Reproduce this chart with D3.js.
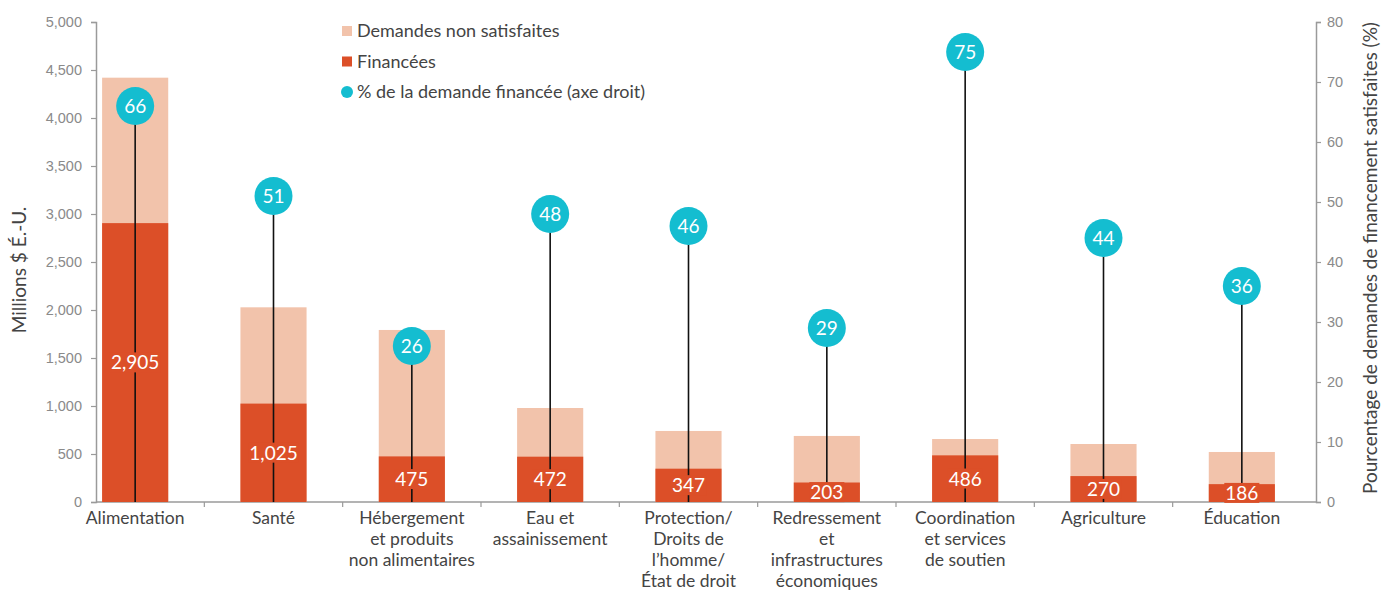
<!DOCTYPE html>
<html>
<head>
<meta charset="utf-8">
<script src="https://cdn.jsdelivr.net/npm/d3@7"></script>
<style>
  body { margin: 0; background: #fff; }
  svg { font-family: Lato, "Open Sans", sans-serif; }
</style>
</head>
<body>
<div id="chart"></div>
<script>
// Data
const categories = [
  ["Alimentation"],
  ["Santé"],
  ["Hébergement", "et produits", "non alimentaires"],
  ["Eau et", "assainissement"],
  ["Protection/", "Droits de", "l’homme/", "État de droit"],
  ["Redressement", "et", "infrastructures", "économiques"],
  ["Coordination", "et services", "de soutien"],
  ["Agriculture"],
  ["Éducation"]
];
const totalDemand = [4420, 2028, 1792, 979, 740, 688, 656, 604, 521];
const funded = [2905, 1025, 475, 472, 347, 203, 486, 270, 186];
const pctFunded = [66, 51, 26, 48, 46, 29, 75, 44, 36];
const leftTicks = [0, 500, 1000, 1500, 2000, 2500, 3000, 3500, 4000, 4500, 5000];
const rightTicks = [0, 10, 20, 30, 40, 50, 60, 70, 80];

const width = 1381, height = 590;
const axisLeft = 96, axisRight = 1316, plotTop = 22, plotBottom = 502;

const colUnmet = "#f2c3ab";
const colFunded = "#dc4f28";
const colDot = "#14bdd0";

const svg = d3.select("#chart").append("svg")
  .attr("width", width)
  .attr("height", height);

const keys = categories.map(d => d.join(" "));

const x = d3.scaleBand()
  .domain(keys)
  .range([66, 1311])
  .paddingInner(0.522)
  .paddingOuter(0.261);

const y = d3.scaleLinear().domain([0, 5000]).range([plotBottom, plotTop]);
const y2 = d3.scaleLinear().domain([0, 80]).range([plotBottom, plotTop]);

// left axis
const gl = svg.append("g").attr("transform", `translate(${axisLeft},0)`)
  .call(d3.axisLeft(y).tickValues(leftTicks).tickFormat(d3.format(",")).tickSize(5).tickPadding(9));
gl.select(".domain").attr("stroke", "#9a9a9a").attr("stroke-width", 1.5);
gl.selectAll(".tick line").attr("stroke", "#9a9a9a").attr("stroke-width", 1.2);
gl.selectAll(".tick text").attr("fill", "#8a8a8a").style("font-size", "14.5px");

// right axis
const gr = svg.append("g").attr("transform", `translate(${axisRight},0)`)
  .call(d3.axisRight(y2).tickValues(rightTicks).tickSize(5).tickPadding(6));
gr.select(".domain").attr("stroke", "#9a9a9a").attr("stroke-width", 1.5);
gr.selectAll(".tick line").attr("stroke", "#9a9a9a").attr("stroke-width", 1.2);
gr.selectAll(".tick text").attr("fill", "#8a8a8a").style("font-size", "14.5px");

// bottom axis line with ticks at band boundaries
svg.append("line")
  .attr("x1", axisLeft).attr("x2", axisRight)
  .attr("y1", plotBottom).attr("y2", plotBottom)
  .attr("stroke", "#9a9a9a").attr("stroke-width", 1.5);
const step = x.step();
svg.selectAll(".xtick")
  .data(keys.slice(1))
  .enter().append("line")
  .attr("class", "xtick")
  .attr("x1", d => x(d) + x.bandwidth() / 2 - step / 2)
  .attr("x2", d => x(d) + x.bandwidth() / 2 - step / 2)
  .attr("y1", plotBottom).attr("y2", plotBottom + 5)
  .attr("stroke", "#9a9a9a").attr("stroke-width", 1.2);

// axis titles
svg.append("text")
  .attr("transform", "translate(26,270) rotate(-90)")
  .attr("text-anchor", "middle")
  .attr("fill", "#444")
  .style("font-size", "19px")
  .text("Millions $ É.-U.");
svg.append("text")
  .attr("transform", "translate(1377,258) rotate(-90)")
  .attr("text-anchor", "middle")
  .attr("fill", "#444")
  .style("font-size", "19px")
  .text("Pourcentage de demandes de financement satisfaites (%)");

// bars
const groups = svg.selectAll(".cat")
  .data(keys)
  .enter().append("g")
  .attr("class", "cat");

groups.append("rect")
  .attr("x", d => x(d))
  .attr("width", x.bandwidth())
  .attr("y", (d, i) => y(totalDemand[i]))
  .attr("height", (d, i) => y(0) - y(totalDemand[i]))
  .attr("fill", colUnmet);

groups.append("rect")
  .attr("x", d => x(d))
  .attr("width", x.bandwidth())
  .attr("y", (d, i) => y(funded[i]))
  .attr("height", (d, i) => y(0) - y(funded[i]))
  .attr("fill", colFunded);

// lollipop stems
groups.append("line")
  .attr("x1", d => x(d) + x.bandwidth() / 2)
  .attr("x2", d => x(d) + x.bandwidth() / 2)
  .attr("y1", y2(0))
  .attr("y2", (d, i) => y2(pctFunded[i]))
  .attr("stroke", "#111")
  .attr("stroke-width", 1.6);

// funded value labels with a background patch
const fmt = d3.format(",");
groups.each(function(d, i) {
  const g = d3.select(this);
  const cx = x(d) + x.bandwidth() / 2;
  const cy = (y(funded[i]) + y(0)) / 2;
  const t = g.append("text")
    .attr("x", cx).attr("y", cy)
    .attr("text-anchor", "middle")
    .attr("dy", "0.36em")
    .attr("fill", "#fff")
    .style("font-size", "19px")
    .text(fmt(funded[i]));
  const bb = t.node().getBBox();
  g.insert("rect", "text")
    .attr("x", bb.x - 1).attr("y", bb.y + 2)
    .attr("width", bb.width + 2).attr("height", bb.height - 3)
    .attr("fill", colFunded);
});

// dots
groups.append("circle")
  .attr("cx", d => x(d) + x.bandwidth() / 2)
  .attr("cy", (d, i) => y2(pctFunded[i]))
  .attr("r", 19)
  .attr("fill", colDot);
groups.append("text")
  .attr("x", d => x(d) + x.bandwidth() / 2)
  .attr("y", (d, i) => y2(pctFunded[i]))
  .attr("dy", "0.36em")
  .attr("text-anchor", "middle")
  .attr("fill", "#fff")
  .style("font-size", "19px")
  .text((d, i) => pctFunded[i]);

// category labels
groups.append("text")
  .attr("text-anchor", "middle")
  .attr("fill", "#444")
  .style("font-size", "17.5px")
  .each(function(d, i) {
    const cx = x(d) + x.bandwidth() / 2;
    d3.select(this).selectAll("tspan")
      .data(categories[i])
      .enter().append("tspan")
      .attr("x", cx)
      .attr("y", (l, j) => 524 + j * 21)
      .text(l => l);
  });

// legend
const legendData = [
  { label: "Demandes non satisfaites", color: colUnmet, shape: "rect" },
  { label: "Financées", color: colFunded, shape: "rect" },
  { label: "% de la demande financée (axe droit)", color: colDot, shape: "circle" }
];
const legend = svg.append("g").attr("transform", "translate(342,31)");
const li = legend.selectAll(".li")
  .data(legendData)
  .enter().append("g")
  .attr("transform", (d, i) => `translate(0,${i * 30.5})`);
li.filter(d => d.shape === "rect").append("rect")
  .attr("x", 0).attr("y", -5).attr("width", 10).attr("height", 10)
  .attr("fill", d => d.color);
li.filter(d => d.shape === "circle").append("circle")
  .attr("cx", 5).attr("cy", 0).attr("r", 6)
  .attr("fill", d => d.color);
li.append("text")
  .attr("x", 15).attr("dy", "0.35em")
  .attr("fill", "#444")
  .style("font-size", "18px")
  .text(d => d.label);
</script>
</body>
</html>
